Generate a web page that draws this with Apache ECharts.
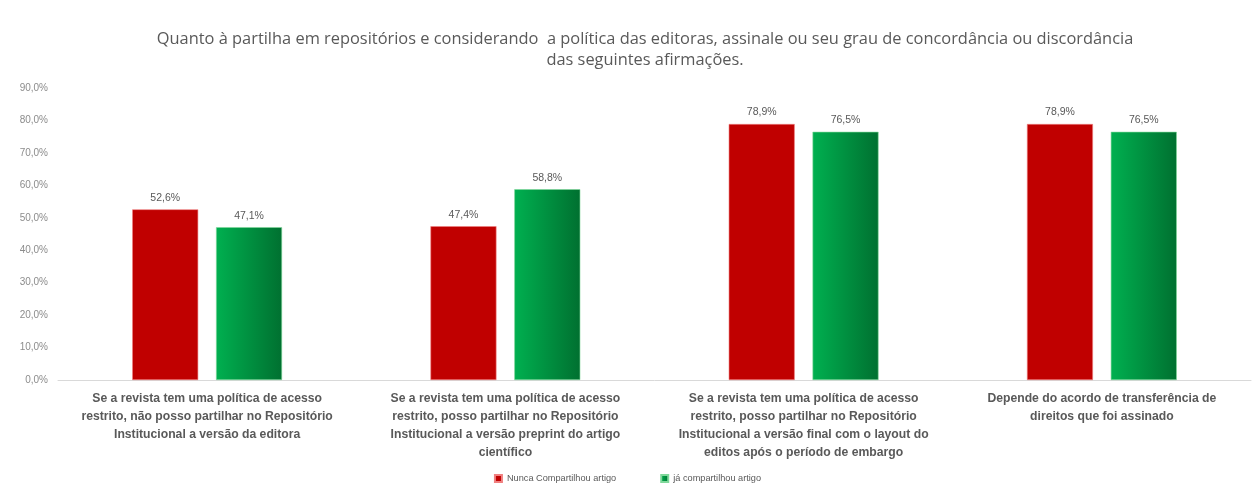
<!DOCTYPE html>
<html>
<head>
<meta charset="utf-8">
<script src="https://cdn.jsdelivr.net/npm/echarts@6/dist/echarts.min.js"></script>
<style>
html,body{margin:0;padding:0;background:#fff;}
#c{width:1255px;height:491px;}
</style>
</head>
<body>
<div id="c"></div>
<script>
const titleText = "Quanto à partilha em repositórios e considerando  a política das editoras, assinale ou seu grau de concordância ou discordância\ndas seguintes afirmações.";
const categories = [
  "Se a revista tem uma política de acesso\nrestrito, não posso partilhar no Repositório\nInstitucional a versão da editora",
  "Se a revista tem uma política de acesso\nrestrito, posso partilhar no Repositório\nInstitucional a versão preprint do artigo\ncientífico",
  "Se a revista tem uma política de acesso\nrestrito, posso partilhar no Repositório\nInstitucional a versão final com o layout do\neditos após o período de embargo",
  "Depende do acordo de transferência de\ndireitos que foi assinado"
];
const seriesNames = ["Nunca Compartilhou artigo", "já compartilhou artigo"];
const nuncaValues = [52.6, 47.4, 78.9, 78.9];
const jaValues = [47.1, 58.8, 76.5, 76.5];

const fmt = v => v.toFixed(1).replace('.', ',') + '%';

const chart = echarts.init(document.getElementById('c'));
chart.setOption({
  backgroundColor: '#fff',
  animation: false,
  title: {
    text: titleText,
    left: 640,
    textAlign: 'center',
    top: 24,
    textStyle: {fontFamily: 'Open Sans', fontSize: 16.4, fontWeight: 'normal', color: '#595959', lineHeight: 21}
  },
  legend: {
    bottom: 3,
    left: 'center',
    itemWidth: 7, itemHeight: 7,
    itemGap: 44,
    icon: 'rect',
    textStyle: {fontFamily: 'Liberation Sans', fontSize: 9.2, color: '#595959'},
    data: seriesNames
  },
  grid: {left: 58, right: 4, top: 88, bottom: 111, containLabel: false},
  xAxis: {
    type: 'category',
    data: categories,
    axisLine: {lineStyle: {color: '#d9d9d9'}},
    axisTick: {show: false},
    axisLabel: {
      interval: 0,
      fontFamily: 'Liberation Sans', fontSize: 12.2, fontWeight: 'bold', color: '#595959',
      lineHeight: 18, margin: 10, align: 'center'
    }
  },
  yAxis: {
    type: 'value',
    min: 0, max: 90, interval: 10,
    axisLine: {show: false},
    axisTick: {show: false},
    splitLine: {show: false},
    axisLabel: {
      formatter: v => v.toFixed(1).replace('.', ',') + '%',
      fontFamily: 'Liberation Sans', fontSize: 10, color: '#8c8c8c', margin: 10
    }
  },
  series: [
    {
      name: seriesNames[0], type: 'bar', data: nuncaValues,
      barWidth: 66, barGap: '27%',
      itemStyle: {color: '#c00000', borderColor: '#f08080', borderWidth: 0.6},
      label: {show: true, position: 'top', formatter: p => fmt(p.value), fontFamily: 'Liberation Sans', fontSize: 10.5, color: '#595959', distance: 6}
    },
    {
      name: seriesNames[1], type: 'bar', data: jaValues,
      barWidth: 66,
      itemStyle: {
        color: new echarts.graphic.LinearGradient(0, 0, 1, 0, [
          {offset: 0, color: '#00b050'},
          {offset: 1, color: '#007030'}
        ]),
        borderColor: '#7fd89a', borderWidth: 0.6
      },
      label: {show: true, position: 'top', formatter: p => fmt(p.value), fontFamily: 'Liberation Sans', fontSize: 10.5, color: '#595959', distance: 6}
    }
  ]
});
</script>
</body>
</html>
